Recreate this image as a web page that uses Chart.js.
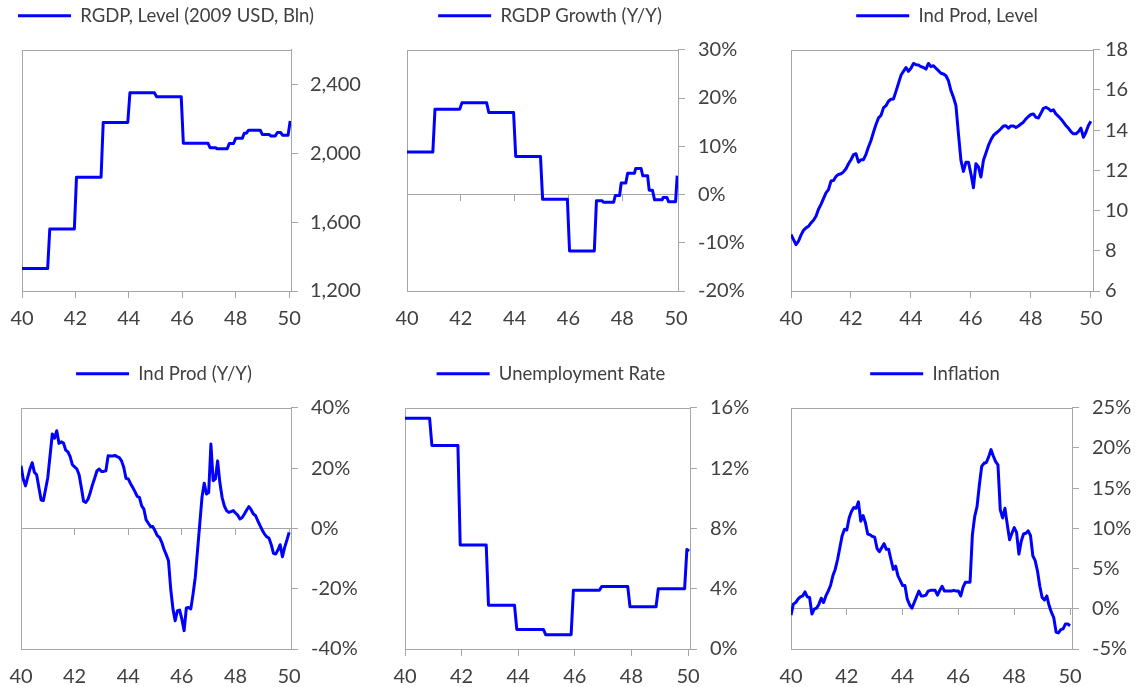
<!DOCTYPE html>
<html>
<head>
<meta charset="utf-8">
<title>1940s macro panels</title>
<script src="https://cdn.jsdelivr.net/npm/chart.js@4.4.1/dist/chart.umd.min.js"></script>
<style>
html,body{margin:0;padding:0;background:#fff;overflow:hidden;}
body{width:1142px;height:687px;position:relative;}
.panel{position:absolute;}
.panel canvas{display:block;}
</style>
</head>
<body>
<script>
// ---------- data ----------
const xTicks = [40, 42, 44, 46, 48, 50];
const xMax = 50.07;

// monthly dates 1940-01 .. 1950-01 as years (40 = 1940)
const monthX = Array.from({length: 121}, (_, i) => 40 + i / 12);

const rgdpX = [40, 40.96, 41.04, 41.96, 42.04, 42.96, 43.04, 43.96, 44.04, 44.96, 45.04, 45.96, 46.04, 46.96,
  47.04, 47.25, 47.3, 47.68, 47.76, 47.92, 48.0, 48.25, 48.32, 48.4, 48.48, 48.92, 49.0, 49.25, 49.32, 49.48,
  49.56, 49.68, 49.76, 49.96, 50.04];
const rgdpLevel = [1330, 1330, 1560, 1560, 1860, 1860, 2178, 2178, 2350, 2350, 2328, 2328, 2058, 2058,
  2032, 2032, 2025, 2025, 2056, 2056, 2087, 2087, 2116, 2116, 2133, 2133, 2108, 2108, 2100, 2100,
  2120, 2120, 2104, 2104, 2187];

const growthX = [40, 40.96, 41.04, 41.96, 42.04, 42.96, 43.04, 43.96, 44.04, 44.96, 45.04, 45.96, 46.04, 46.96,
  47.04, 47.25, 47.3, 47.68, 47.74, 47.9, 47.96, 48.13, 48.2, 48.45, 48.5, 48.7, 48.76, 48.94, 49.0, 49.12,
  49.2, 49.48, 49.52, 49.66, 49.72, 49.98, 50.04];
const rgdpGrowth = [8.8, 8.8, 17.7, 17.7, 19.0, 19.0, 17.0, 17.0, 7.9, 7.9, -1.0, -1.0, -11.7, -11.7,
  -1.3, -1.3, -1.6, -1.6, -0.2, -0.2, 2.4, 2.4, 4.4, 4.4, 5.4, 5.4, 3.9, 3.9, 0.9, 0.9,
  -1.1, -1.1, -0.6, -0.6, -1.5, -1.5, 3.9];

const ipLevel = [
  8.81, 8.56, 8.31, 8.48, 8.78, 9.02, 9.14, 9.22, 9.39, 9.52, 9.72, 10.07,
  10.31, 10.6, 10.88, 11.04, 11.47, 11.5, 11.7, 11.8, 11.83, 11.93, 12.08, 12.33,
  12.53, 12.78, 12.83, 12.41, 12.53, 12.53, 12.8, 13.16, 13.49, 13.9, 14.28, 14.61,
  14.73, 15.11, 15.22, 15.44, 15.54, 15.55, 15.93, 16.33, 16.73, 16.93, 17.12, 16.93,
  17.08, 17.32, 17.26, 17.24, 17.16, 17.12, 17.04, 17.32, 17.16, 17.21, 17.08, 16.96,
  16.83, 16.8, 16.71, 16.46, 15.97, 15.64, 15.22, 13.82, 12.5, 11.95, 12.41, 12.41,
  11.83, 11.14, 12.33, 12.17, 11.67, 12.5, 12.86, 13.24, 13.52, 13.74, 13.85, 13.95,
  14.07, 14.21, 14.22, 14.1, 14.21, 14.21, 14.13, 14.21, 14.31, 14.4, 14.56, 14.68,
  14.78, 14.81, 14.64, 14.61, 14.84, 15.09, 15.14, 15.07, 14.96, 15.01, 14.81, 14.69,
  14.56, 14.4, 14.23, 14.1, 13.93, 13.82, 13.82, 13.93, 14.1, 13.65, 13.9, 14.23,
  14.45];

const ipGrowth = [
  20.8, 16.4, 14.1, 16.9, 19.7, 21.8, 18.6, 17.8, 13.6, 9.4, 9.2, 13.0,
  16.9, 24.1, 31.3, 29.9, 32.4, 28.2, 28.7, 28.3, 26.0, 25.4, 23.8, 21.1,
  20.4, 19.7, 17.8, 13.6, 9.0, 8.6, 9.7, 11.9, 14.5, 16.7, 19.1, 19.7,
  18.9, 18.9, 19.1, 24.1, 24.0, 24.0, 24.2, 23.8, 23.5, 22.4, 20.2, 16.6,
  16.4, 14.9, 13.6, 12.2, 10.6, 10.3, 7.5, 6.4, 2.8, 1.7, 0.6, 0.6,
  -0.8, -2.4, -3.0, -4.6, -6.9, -8.7, -10.7, -20.1, -26.7, -30.6, -27.3, -27.1,
  -30.1, -33.9, -26.4, -26.2, -26.7, -21.8, -16.2, -7.4, 1.4, 10.3, 15.0, 11.4,
  11.9, 28.0, 15.8, 16.4, 22.4, 15.2, 10.3, 7.5, 5.9, 5.3, 5.6, 5.9,
  5.1, 4.4, 3.1, 3.6, 4.8, 6.1, 7.2, 6.2, 4.8, 4.2, 2.5, 0.9,
  -0.6, -1.9, -2.8, -3.3, -5.4, -8.3, -8.5, -7.2, -5.4, -9.4, -6.3, -3.9,
  -1.3];

const unempX = [40, 40.87, 40.95, 41.87, 41.95, 42.87, 42.95, 43.87, 43.95, 44.89, 44.97, 45.87, 45.95,
  46.87, 46.95, 47.87, 47.95, 48.87, 48.95, 49.88, 49.96, 50.04];
const unempRate = [15.3, 15.3, 13.5, 13.5, 6.9, 6.9, 2.9, 2.9, 1.3, 1.3, 0.95, 0.95, 3.9,
  3.9, 4.15, 4.15, 2.8, 2.8, 4.0, 4.0, 6.6, 6.5];

const inflation = [
  -0.78, 0.58, 0.78, 1.2, 1.49, 1.6, 2.1, 1.49, 1.4, -0.66, -0.04, 0.08,
  0.58, 1.32, 0.78, 1.6, 2.2, 2.9, 4.1, 4.9, 6.1, 7.6, 9.1, 9.9,
  9.8, 11.3, 12.1, 12.6, 12.5, 13.3, 10.9, 11.6, 10.7, 9.3, 9.2, 9.0,
  8.9, 7.5, 7.1, 7.6, 8.1, 7.4, 7.4, 6.1, 4.9, 5.3, 4.1, 3.5,
  2.9, 2.9, 1.2, 0.5, 0.08, 0.78, 1.5, 2.2, 1.6, 1.6, 1.7, 2.2,
  2.3, 2.3, 2.3, 1.7, 2.3, 2.8, 2.2, 2.2, 2.2, 2.2, 2.3, 2.2,
  2.2, 1.6, 2.7, 3.3, 3.3, 3.3, 9.2, 11.5, 12.7, 15.4, 17.7, 18.1,
  18.2, 18.9, 19.8, 19.0, 18.3, 17.9, 12.3, 11.3, 12.5, 10.5, 8.6, 9.4,
  10.1, 9.5, 6.8, 8.4, 9.3, 9.4, 9.7, 9.1, 6.6, 6.0, 4.7, 2.8,
  1.4, 1.1, 1.6, 0.4, -0.45, -1.1, -2.9, -3.0, -2.6, -2.5, -1.9, -1.9,
  -2.1];

const levelTicks = [1200, 1600, 2000, 2400];
const growthTicks = [-20, -10, 0, 10, 20, 30];
const ipLevelTicks = [6, 8, 10, 12, 14, 16, 18];
const ipGrowthTicks = [-40, -20, 0, 20, 40];
const unempTicks = [0, 4, 8, 12, 16];
const inflTicks = [-5, 0, 5, 10, 15, 20, 25];

// ---------- styling ----------
const blue = '#0000ff';
const axisGrey = '#a6a6a6';
const textGrey = '#404040';
const fontFamily = 'Lato, "Open Sans", sans-serif';

const pct = v => v + '%';
const comma = v => v.toLocaleString('en-US');

const panels = [
  {label: 'RGDP, Level (2009 USD, Bln)', xs: rgdpX, ys: rgdpLevel, yMin: 1200, yMax: 2600, yTicks: levelTicks, fmt: comma, zero: false,
    areaL: 22, areaR: 291, top: 0, legendC: 166, tickPad: 12},
  {label: 'RGDP Growth (Y/Y)', xs: growthX, ys: rgdpGrowth, yMin: -20, yMax: 30, yTicks: growthTicks, fmt: pct, zero: true,
    areaL: 407, areaR: 678, top: 0, legendC: 550, tickPad: 13},
  {label: 'Ind Prod, Level', xs: monthX, ys: ipLevel, yMin: 6, yMax: 18, yTicks: ipLevelTicks, fmt: v => String(v), zero: false,
    areaL: 791, areaR: 1093, top: 0, legendC: 947, tickPad: 5},
  {label: 'Ind Prod (Y/Y)', xs: monthX, ys: ipGrowth, yMin: -40, yMax: 40, yTicks: ipGrowthTicks, fmt: pct, zero: true,
    areaL: 21, areaR: 291, top: 358, legendC: 164, tickPad: 13},
  {label: 'Unemployment Rate', xs: unempX, ys: unempRate, yMin: 0, yMax: 16, yTicks: unempTicks, fmt: pct, zero: false,
    areaL: 405, areaR: 690, top: 358, legendC: 551, tickPad: 13},
  {label: 'Inflation', xs: monthX, ys: inflation, yMin: -5, yMax: 25, yTicks: inflTicks, fmt: pct, zero: true,
    areaL: 791, areaR: 1072, top: 358, legendC: 935, tickPad: 13}
];

// extra room between legend and plot, and legend centred where the reference has it
const legendPlace = {
  id: 'legendPlace',
  beforeInit(chart) {
    const origFit = chart.legend.fit;
    chart.legend.fit = function fit() {
      origFit.bind(chart.legend)();
      this.height += 14.8;
    };
  },
  afterLayout(chart, args, opts) {
    const lg = chart.legend;
    const shift = opts.center - (lg.left + lg.right) / 2;
    lg.left += shift;
    lg.right += shift;
  }
};

// grey frame round the plot area
const plotFrame = {
  id: 'plotFrame',
  beforeDatasetsDraw(chart) {
    const a = chart.chartArea;
    const ctx = chart.ctx;
    ctx.save();
    ctx.strokeStyle = axisGrey;
    ctx.lineWidth = 1;
    ctx.strokeRect(Math.round(a.left) + 0.5, Math.round(a.top) + 0.5,
      Math.round(a.right) - Math.round(a.left), Math.round(a.bottom) - Math.round(a.top));
    ctx.restore();
  }
};

function fixedTicks(list) {
  return axis => { axis.ticks = list.map(v => ({value: v})); };
}

const padL = 16, padR = 4, axisW = 78, H = 345;

panels.forEach(p => {
  const areaW = p.areaR - p.areaL;
  const W = padL + areaW + axisW + padR;

  const div = document.createElement('div');
  div.className = 'panel';
  div.style.left = (p.areaL - padL) + 'px';
  div.style.top = p.top + 'px';
  const canvas = document.createElement('canvas');
  canvas.width = W;
  canvas.height = H;
  div.appendChild(canvas);
  document.body.appendChild(div);

  const scales = {
    x: {
      type: 'linear', position: 'bottom', min: 40, max: xMax,
      afterBuildTicks: fixedTicks(xTicks),
      afterFit: axis => { axis.paddingLeft = 0; axis.paddingRight = 0; },
      ticks: {color: textGrey, font: {family: fontFamily, size: 20}, padding: 9, autoSkip: false, maxRotation: 0,
        callback: v => String(v)},
      grid: {drawOnChartArea: false, tickLength: 7, color: axisGrey, tickColor: p.zero ? 'transparent' : axisGrey},
      border: {color: axisGrey}
    },
    y: {
      type: 'linear', position: 'right', min: p.yMin, max: p.yMax,
      afterBuildTicks: fixedTicks(p.yTicks),
      afterFit: axis => { axis.width = axisW; },
      ticks: {color: textGrey, font: {family: fontFamily, size: 20}, padding: p.tickPad, callback: p.fmt},
      grid: {drawOnChartArea: false, tickLength: 7, color: axisGrey},
      border: {color: axisGrey}
    }
  };
  if (p.zero) {
    // zero line with its own small tick marks
    scales.x0 = {
      type: 'linear', axis: 'x', position: {y: 0}, min: 40, max: xMax,
      afterBuildTicks: fixedTicks(xTicks),
      ticks: {display: false},
      grid: {drawOnChartArea: false, tickLength: 6, color: axisGrey},
      border: {color: axisGrey}
    };
  }

  new Chart(canvas, {
    type: 'line',
    data: {
      datasets: [{
        label: p.label,
        data: p.xs.map((x, i) => ({x: x, y: p.ys[i]})),
        xAxisID: 'x', yAxisID: 'y',
        borderColor: blue,
        backgroundColor: blue,
        borderWidth: 3,
        borderJoinStyle: 'round',
        pointRadius: 0,
        tension: 0,
        fill: false
      }]
    },
    options: {
      responsive: false,
      animation: false,
      layout: {padding: {left: padL, right: padR, top: 0, bottom: 5}},
      plugins: {
        legend: {
          position: 'top',
          labels: {
            usePointStyle: true, pointStyle: 'line', pointStyleWidth: 53,
            padding: 6.5, color: textGrey, font: {family: fontFamily, size: 18.5}
          }
        },
        legendPlace: {center: p.legendC - p.areaL + padL},
        tooltip: {enabled: false}
      },
      scales: scales
    },
    plugins: [legendPlace, plotFrame]
  });
});
</script>
</body>
</html>
